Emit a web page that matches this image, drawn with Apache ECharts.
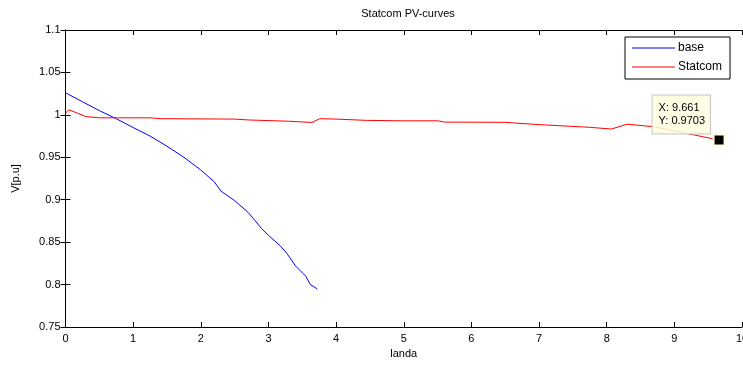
<!DOCTYPE html>
<html>
<head>
<meta charset="utf-8">
<script src="https://cdn.jsdelivr.net/npm/echarts@6/dist/echarts.min.js"></script>
<style>
html,body{margin:0;padding:0;background:#fff;}
#c{width:743px;height:365px;}
</style>
</head>
<body>
<div id="c"></div>
<script>
const titleText = 'Statcom PV-curves';
const xName = 'landa';
const yName = 'V[p.u]';
const seriesNames = ['base', 'Statcom'];

const baseX = [0, 0.25, 0.5, 0.75, 1.0, 1.25, 1.5, 1.75, 2.0, 2.2, 2.3, 2.5, 2.7, 2.9, 3.0, 3.17, 3.27, 3.4, 3.55, 3.62, 3.72];
const baseY = [1.026, 1.0155, 1.005, 0.9955, 0.985, 0.975, 0.963, 0.950, 0.935, 0.921, 0.910, 0.899, 0.885, 0.866, 0.858, 0.846, 0.837, 0.822, 0.810, 0.800, 0.795];

const statX = [0, 0.05, 0.3, 0.5, 1.25, 1.4, 2.5, 2.7, 3.3, 3.64, 3.76, 4.0, 4.45, 4.95, 5.5, 5.6, 6.5, 6.62, 7.0, 7.75, 8.07, 8.3, 8.7, 9.661];
const statY = [1.002, 1.006, 0.998, 0.9965, 0.9965, 0.9955, 0.995, 0.994, 0.9925, 0.991, 0.9955, 0.995, 0.9935, 0.993, 0.993, 0.9915, 0.9912, 0.9905, 0.9885, 0.9853, 0.9833, 0.989, 0.986, 0.9703];

const tipX = 9.661;
const tipY = 0.9703;

const xMin = 0, xMax = 10, xStep = 1;
const yMin = 0.75, yMax = 1.1, yStep = 0.05;

const font = 'Liberation Sans, Arial, sans-serif';
const fmt = v => String(+(+v).toFixed(2));

const chart = echarts.init(document.getElementById('c'), null, {renderer: 'canvas'});

const axisCommon = {
  axisLine: {show: true, lineStyle: {color: '#000', width: 1}},
  axisTick: {show: true, inside: true, length: 5, lineStyle: {color: '#000'}},
  splitLine: {show: false}
};

const lineIcon = 'path://M0,0 H86 V2 H0 Z';

chart.setOption({
  backgroundColor: '#fff',
  animation: false,
  title: {
    text: titleText,
    left: 403, top: 3, textAlign: 'center',
    textStyle: {fontFamily: font, fontSize: 11, fontWeight: 'normal', color: '#000'}
  },
  legend: {
    orient: 'vertical',
    left: 625, top: 37,
    width: 113,
    padding: [5, 8, 6, 7],
    itemGap: 7,
    itemWidth: 43, itemHeight: 14,
    symbolKeepAspect: true,
    backgroundColor: '#fff',
    borderColor: '#000', borderWidth: 1,
    borderRadius: 0,
    textStyle: {fontFamily: font, fontSize: 12, color: '#000', padding: [0, 0, 0, -2]},
    data: [
      {name: seriesNames[0], icon: lineIcon},
      {name: seriesNames[1], icon: lineIcon}
    ]
  },
  grid: {left: 65.5, right: 1, top: 30, bottom: 38, containLabel: false, outerBoundsMode: 'none'},
  xAxis: [
    Object.assign({
      type: 'value', min: xMin, max: xMax, interval: xStep, position: 'bottom',
      name: xName, nameLocation: 'middle', nameGap: 19,
      nameTextStyle: {fontFamily: font, fontSize: 11, color: '#000'},
      axisLabel: {show: true, showMaxLabel: true, fontFamily: font, fontSize: 11, color: '#000', margin: 6, formatter: fmt}
    }, axisCommon),
    Object.assign({
      type: 'value', min: xMin, max: xMax, interval: xStep, position: 'top',
      axisLabel: {show: false}
    }, axisCommon)
  ],
  yAxis: [
    Object.assign({
      type: 'value', min: yMin, max: yMax, interval: yStep, position: 'left',
      name: yName, nameLocation: 'middle', nameGap: 44, nameRotate: 90,
      nameTextStyle: {fontFamily: font, fontSize: 11, color: '#000'},
      axisLabel: {show: true, fontFamily: font, fontSize: 11, color: '#000', margin: 5, formatter: fmt}
    }, axisCommon),
    Object.assign({
      type: 'value', min: yMin, max: yMax, interval: yStep, position: 'right',
      axisLabel: {show: false}
    }, axisCommon)
  ],
  series: [
    {
      name: seriesNames[0], type: 'line', symbol: 'none', smooth: false,
      xAxisIndex: 0, yAxisIndex: 0,
      lineStyle: {color: '#0000ff', width: 1}, itemStyle: {color: '#0000ff'},
      data: baseX.map((x, i) => [x, baseY[i]]),
      z: 3
    },
    {
      name: seriesNames[1], type: 'line', symbol: 'none', smooth: false,
      xAxisIndex: 0, yAxisIndex: 0,
      lineStyle: {color: '#ff0000', width: 1}, itemStyle: {color: '#ff0000'},
      data: statX.map((x, i) => [x, statY[i]]),
      z: 3,
      markPoint: {
        symbol: 'rect', symbolSize: 11,
        silent: true,
        itemStyle: {color: '#000', borderColor: '#ffffd8', borderWidth: 2},
        label: {
          show: true,
          position: [-60, -38],
          align: 'left', verticalAlign: 'top',
          formatter: 'X: ' + tipX + '\nY: ' + tipY,
          fontFamily: font, fontSize: 11, color: '#000', lineHeight: 13,
          backgroundColor: 'rgba(255,255,225,0.85)',
          borderColor: '#c8c8c8', borderWidth: 1,
          padding: [6, 5, 6, 6]
        },
        data: [{coord: [tipX, tipY]}]
      }
    }
  ]
});
</script>
</body>
</html>
